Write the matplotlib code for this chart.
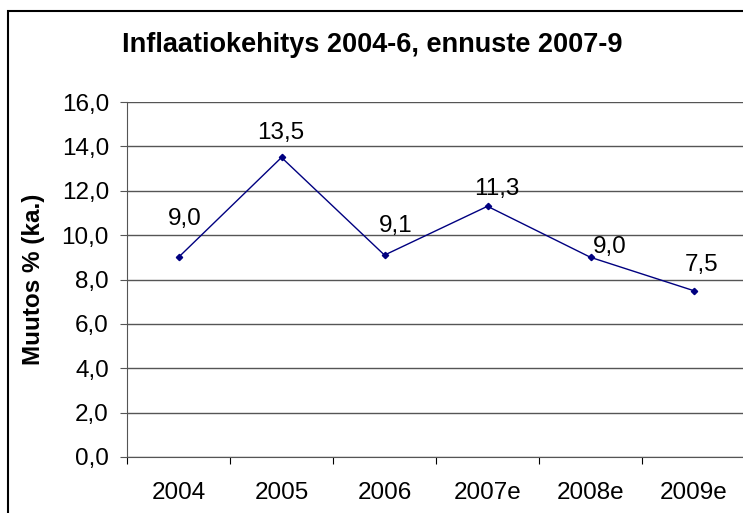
import matplotlib.pyplot as plt
from matplotlib.patches import Rectangle

# data
years = ["2004", "2005", "2006", "2007e", "2008e", "2009e"]
inflation = [9.0, 13.5, 9.1, 11.3, 9.0, 7.5]

# label offsets (pixels) as placed in the original chart
label_dx = [6, -1, 11, 9, 19, 8]
label_dy = [32, 18, 23, 11, 4, 20]

plt.rcParams['font.family'] = ['Liberation Sans', 'DejaVu Sans']

fig = plt.figure(figsize=(7.43, 5.13), dpi=100)

# outer chart border
fig.patches.append(Rectangle((8 / 743, -0.01), 1.0, 1 - 11 / 513 + 0.01,
                             transform=fig.transFigure, fill=False,
                             edgecolor='black', linewidth=1.5))

ax = fig.add_axes([127 / 743, 56 / 513, 618 / 743, 355 / 513])

x = list(range(len(years)))
ax.plot(x, inflation, color='#000080', linewidth=1, marker='D', markersize=3.2)

for xi, v, dx, dy in zip(x, inflation, label_dx, label_dy):
    ax.annotate(f"{v:.1f}".replace('.', ','), (xi, v), xytext=(dx, dy),
                textcoords='offset pixels', ha='center', va='baseline', fontsize=17.5)

ax.set_xlim(-0.5, len(years) - 0.5)
ax.set_ylim(0, 16)
yt = [0, 2, 4, 6, 8, 10, 12, 14, 16]
ax.set_yticks(yt)
ax.set_yticklabels([f"{v:.1f}".replace('.', ',') for v in yt], fontsize=17.5)
ax.yaxis.grid(True, color='#555555', linewidth=1)
ax.set_axisbelow(True)

ax.set_xticks([i - 0.5 for i in range(len(years) + 1)])
ax.set_xticklabels([])
ax.set_xticks(x, minor=True)
ax.set_xticklabels(years, minor=True, fontsize=17.5)
ax.tick_params(axis='x', which='minor', length=0, pad=18)
ax.tick_params(axis='x', which='major', length=5, direction='out', color='black')
ax.tick_params(axis='y', length=5, direction='out', color='#555555', pad=8)

for s in ['top', 'right']:
    ax.spines[s].set_visible(False)
ax.spines['left'].set_color('#555555')
ax.spines['bottom'].set_color('#555555')

ax.set_ylabel("Muutos % (ka.)", fontsize=17.5, fontweight='bold')
ax.yaxis.set_label_coords(-82 / 618, 0.5)
fig.text(372 / 743, 1 - 45 / 513, "Inflaatiokehitys 2004-6, ennuste 2007-9",
         ha='center', va='center', fontsize=19.5, fontweight='bold')

fig.savefig("out.png", dpi=100)
